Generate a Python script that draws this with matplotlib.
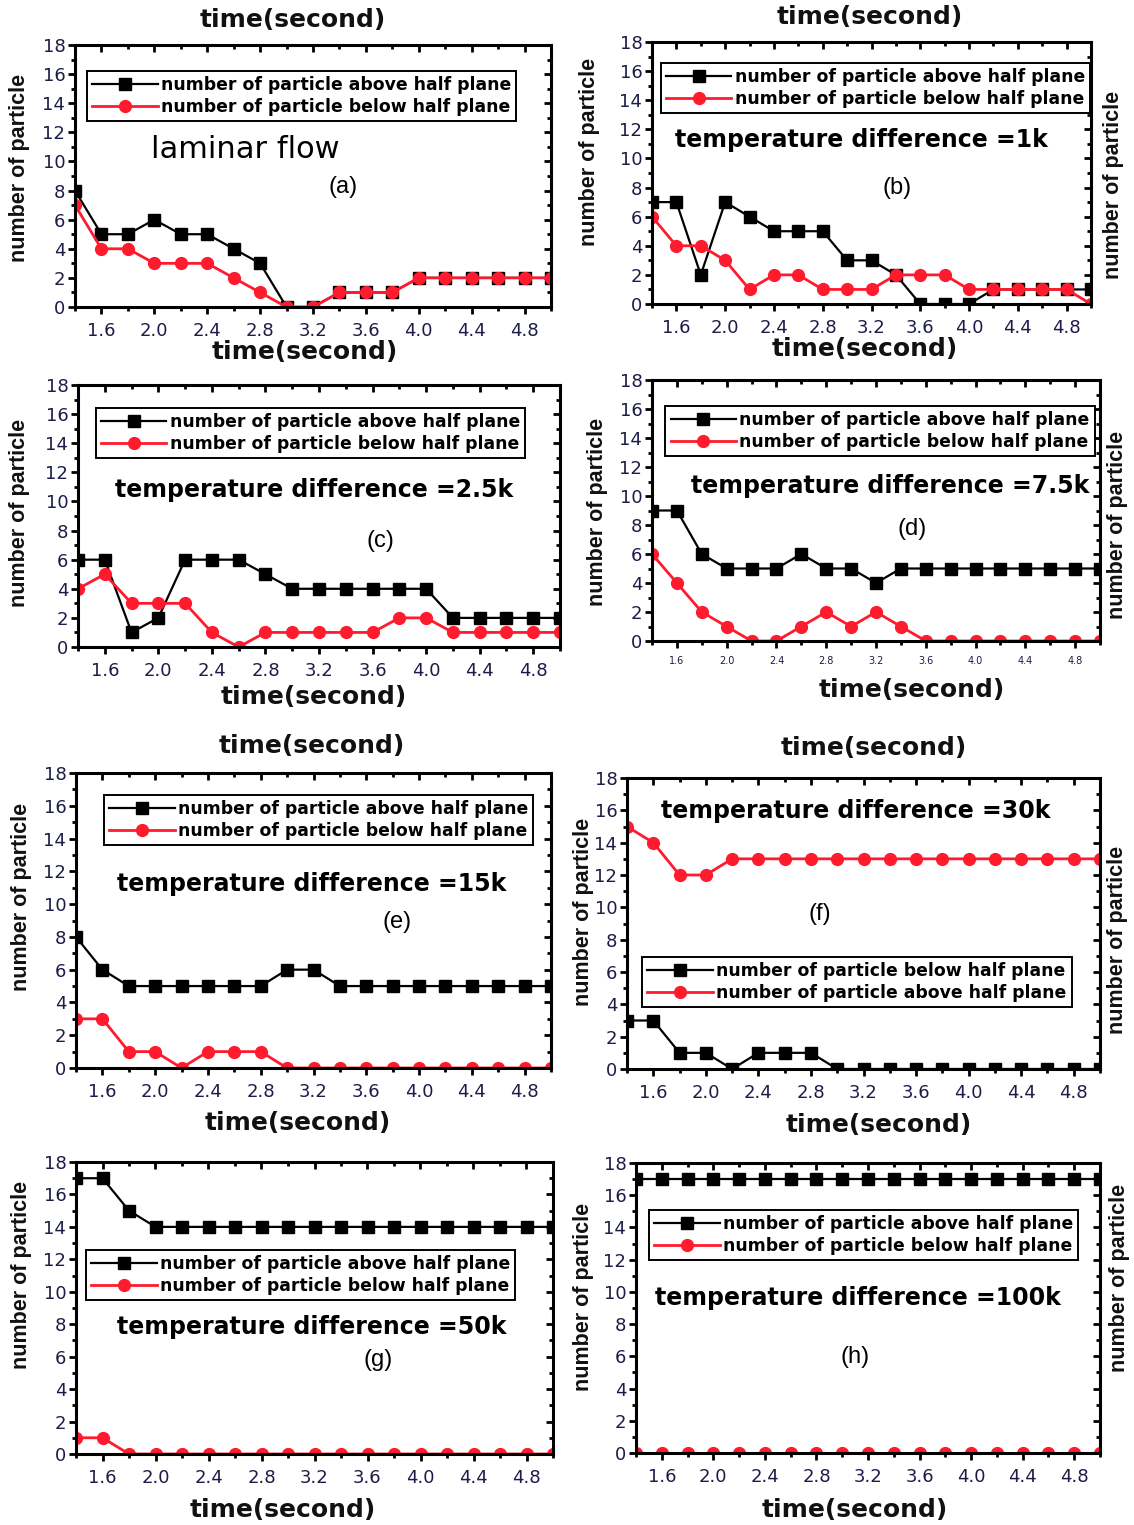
import matplotlib
matplotlib.use('Agg')
import matplotlib.pyplot as plt
from matplotlib.ticker import MultipleLocator, FixedLocator

# time axis shared by all panels
time = [1.4, 1.6, 1.8, 2.0, 2.2, 2.4, 2.6, 2.8, 3.0, 3.2,
        3.4, 3.6, 3.8, 4.0, 4.2, 4.4, 4.6, 4.8, 5.0]
xticks = [1.6, 2.0, 2.4, 2.8, 3.2, 3.6, 4.0, 4.4, 4.8]

# (a) laminar flow
a_black = [8, 5, 5, 6, 5, 5, 4, 3, 0, 0, 1, 1, 1, 2, 2, 2, 2, 2, 2]
a_red = [7, 4, 4, 3, 3, 3, 2, 1, 0, 0, 1, 1, 1, 2, 2, 2, 2, 2, 2]
# (b) 1k
b_black = [7, 7, 2, 7, 6, 5, 5, 5, 3, 3, 2, 0, 0, 0, 1, 1, 1, 1, 1]
b_red = [6, 4, 4, 3, 1, 2, 2, 1, 1, 1, 2, 2, 2, 1, 1, 1, 1, 1, 0]
# (c) 2.5k
c_black = [6, 6, 1, 2, 6, 6, 6, 5, 4, 4, 4, 4, 4, 4, 2, 2, 2, 2, 2]
c_red = [4, 5, 3, 3, 3, 1, 0, 1, 1, 1, 1, 1, 2, 2, 1, 1, 1, 1, 1]
# (d) 7.5k
d_black = [9, 9, 6, 5, 5, 5, 6, 5, 5, 4, 5, 5, 5, 5, 5, 5, 5, 5, 5]
d_red = [6, 4, 2, 1, 0, 0, 1, 2, 1, 2, 1, 0, 0, 0, 0, 0, 0, 0, 0]
# (e) 15k
e_black = [8, 6, 5, 5, 5, 5, 5, 5, 6, 6, 5, 5, 5, 5, 5, 5, 5, 5, 5]
e_red = [3, 3, 1, 1, 0, 1, 1, 1, 0, 0, 0, 0, 0, 0, 0, 0, 0, 0, 0]
# (f) 30k (legend labels swapped in the original)
f_black = [3, 3, 1, 1, 0, 1, 1, 1, 0, 0, 0, 0, 0, 0, 0, 0, 0, 0, 0]
f_red = [15, 14, 12, 12, 13, 13, 13, 13, 13, 13, 13, 13, 13, 13, 13, 13, 13, 13, 13]
# (g) 50k
g_black = [17, 17, 15, 14, 14, 14, 14, 14, 14, 14, 14, 14, 14, 14, 14, 14, 14, 14, 14]
g_red = [1, 1, 0, 0, 0, 0, 0, 0, 0, 0, 0, 0, 0, 0, 0, 0, 0, 0, 0]
# (h) 100k
h_black = [17] * 19
h_red = [0] * 19

above = 'number of particle above half plane'
below = 'number of particle below half plane'

W, H = 1134, 1525
fig = plt.figure(figsize=(W / 100, H / 100), dpi=100)

RED = '#ff1a2e'
TICKCOL = '#1c1c48'
LABFONT = ['Liberation Sans', 'DejaVu Sans']


def box(l, r, t, b):
    return [l / W, 1 - b / H, (r - l) / W, (b - t) / H]


def panel(pos, black, red, lab_black, lab_red, leg_xy, note, note_xy, tag, tag_xy,
          small_ticks=False):
    ax = fig.add_axes(box(*pos))
    ax.plot(time, black, color='black', lw=1.6, marker='s', ms=8, label=lab_black)
    ax.plot(time, red, color=RED, lw=2.0, marker='o', ms=8.5, label=lab_red)
    ax.set_xlim(1.4, 5.0)
    ax.set_ylim(0, 18)
    ax.xaxis.set_major_locator(FixedLocator(xticks))
    ax.xaxis.set_minor_locator(MultipleLocator(0.2))
    ax.yaxis.set_major_locator(MultipleLocator(2))
    ax.yaxis.set_minor_locator(MultipleLocator(1))
    for s in ax.spines.values():
        s.set_linewidth(2.2)
    fs = 7 if small_ticks else 13
    ax.tick_params(which='both', direction='out', width=2, labelcolor=TICKCOL)
    ax.tick_params(which='major', length=5)
    ax.tick_params(which='minor', length=3)
    ax.tick_params(axis='x', labelsize=fs, pad=6)
    ax.tick_params(axis='y', labelsize=13, pad=2)
    # inward ticks on top and right
    top = ax.secondary_xaxis('top')
    top.xaxis.set_major_locator(FixedLocator(xticks))
    top.xaxis.set_minor_locator(MultipleLocator(0.2))
    top.tick_params(which='both', direction='in', width=2, labeltop=False)
    top.tick_params(which='major', length=5)
    top.tick_params(which='minor', length=3)
    right = ax.secondary_yaxis('right')
    right.yaxis.set_major_locator(MultipleLocator(2))
    right.yaxis.set_minor_locator(MultipleLocator(1))
    right.tick_params(which='both', direction='in', width=2, labelright=False)
    right.tick_params(which='major', length=5)
    right.tick_params(which='minor', length=3)
    leg = ax.legend(loc='upper left', bbox_to_anchor=leg_xy, fancybox=False,
                    edgecolor='black', framealpha=1, handlelength=3.8, handletextpad=0.2,
                    borderpad=0.3, labelspacing=0.22, numpoints=1, borderaxespad=0,
                    prop={'family': 'DejaVu Sans', 'weight': 'bold', 'size': 12.4})
    leg.get_frame().set_linewidth(1.4)
    if note == 'laminar flow':
        ax.text(note_xy[0], note_xy[1], note, transform=ax.transAxes, ha='center',
                va='center', fontsize=22, family='DejaVu Sans')
    else:
        ax.text(note_xy[0], note_xy[1], note, transform=ax.transAxes, ha='center',
                va='center', fontsize=17, fontweight='bold', family='DejaVu Sans')
    ax.text(tag_xy[0], tag_xy[1], tag, transform=ax.transAxes, ha='center', va='center',
            fontsize=17, family=LABFONT)
    return ax


def xlab(x, y):
    fig.text(x / W, 1 - y / H, 'time(second)', ha='center', va='center',
             fontsize=18, fontweight='bold', family='DejaVu Sans', color='#111111')


def ylab(x, y):
    fig.text(x / W, 1 - y / H, 'number of particle', ha='center', va='center', rotation=90,
             fontsize=15.5, fontweight='bold', family=LABFONT, color='#111111')


panel((75, 551, 45, 307), a_black, a_red, above, below, (0.025, 0.90),
      'laminar flow', (0.357, 0.60), '(a)', (0.563, 0.458))
panel((652, 1091, 42, 304), b_black, b_red, above, below, (0.02, 0.92),
      'temperature difference =1k', (0.478, 0.626), '(b)', (0.558, 0.443))
panel((78, 560, 385, 647), c_black, c_red, above, below, (0.037, 0.912),
      'temperature difference =2.5k', (0.49, 0.60), '(c)', (0.627, 0.405))
panel((652, 1100, 380, 641), d_black, d_red, above, below, (0.03, 0.90),
      'temperature difference =7.5k', (0.531, 0.594), '(d)', (0.58, 0.43), small_ticks=True)
panel((76, 551, 773, 1068), e_black, e_red, above, below, (0.059, 0.925),
      'temperature difference =15k', (0.497, 0.624), '(e)', (0.676, 0.495))
panel((627, 1100, 778, 1069), f_black, f_red, below, above, (0.032, 0.385),
      'temperature difference =30k', (0.484, 0.887), '(f)', (0.408, 0.533))
panel((76, 553, 1162, 1454), g_black, g_red, above, below, (0.021, 0.70),
      'temperature difference =50k', (0.495, 0.435), '(g)', (0.633, 0.322))
panel((636, 1100, 1163, 1453), h_black, h_red, above, below, (0.028, 0.838),
      'temperature difference =100k', (0.478, 0.534), '(h)', (0.472, 0.331))

# x labels (top and bottom)
for x, y in [(293, 20), (870, 17), (312, 746), (874, 748),
             (305, 352), (865, 349), (314, 697), (912, 690),
             (298, 1123), (879, 1125), (283, 1510), (855, 1510)]:
    xlab(x, y)

# y labels, left and right
for x, y in [(20, 168), (590, 152), (20, 513), (597, 512), (22, 897), (583, 912),
             (22, 1275), (583, 1297), (1113, 185), (1117, 525), (1117, 940), (1120, 1278)]:
    ylab(x, y)

fig.savefig('out.png', dpi=100)
